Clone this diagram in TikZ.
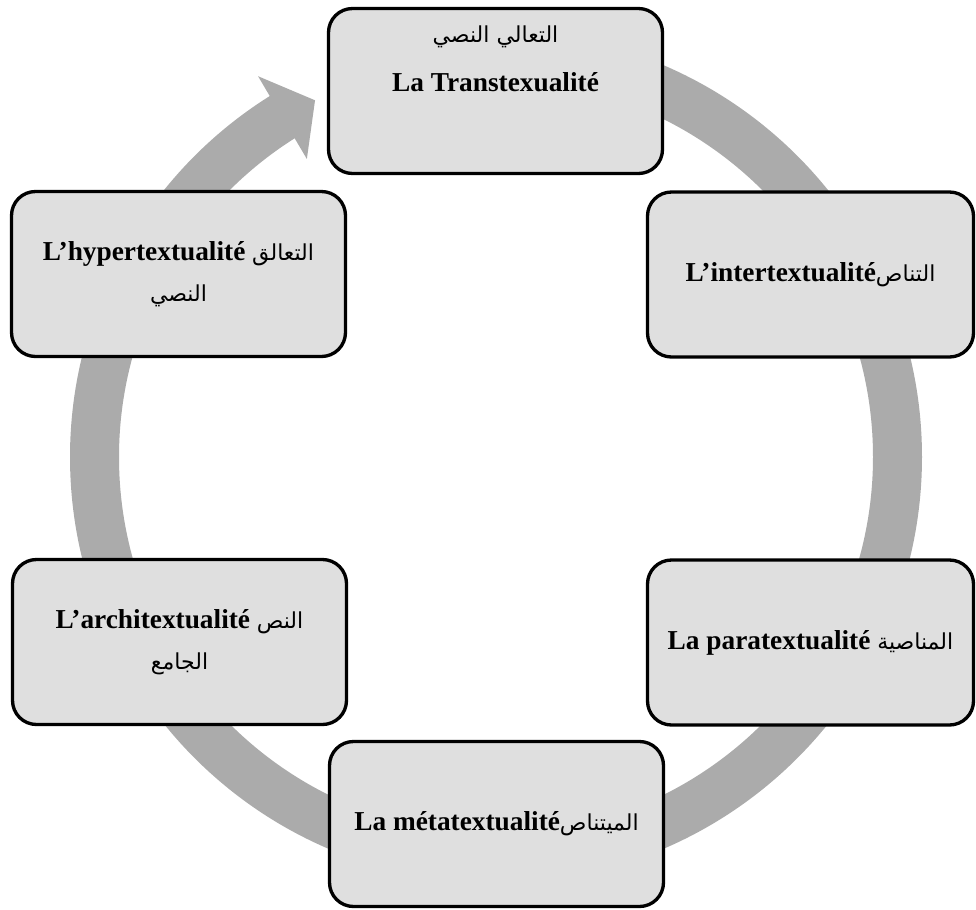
\documentclass[tikz,border=0pt]{standalone}
\usepackage{fontspec}
\setmainfont{Liberation Serif}
\newfontfamily\arabicfont[Script=Arabic]{DejaVu Sans}
\TeXXeTstate=1
% Arabic words, set right to left
\newcommand{\arw}[1]{{\arabicfont\mdseries\fontsize{16.5}{20}\selectfont\beginR #1\endR}}
\definecolor{boxgray}{HTML}{DFDFDF}
\definecolor{ringgray}{HTML}{ABABAB}
\begin{document}
\begin{tikzpicture}[x=0.75pt,y=-0.75pt,
  stage/.style={draw=black, line width=2.5pt, fill=boxgray,
    rounded corners=18pt, inner sep=0pt, align=center,
    minimum width=250.5pt, minimum height=123.75pt,
    font=\fontsize{20.5}{25}\selectfont\bfseries},
  narrow/.style={minimum width=244.5pt},
  ring/.style={draw=ringgray, line width=36.75pt},
  ringhead/.style={fill=ringgray},
]
\useasboundingbox (0,0) rectangle (976,910);

% the cycle ring with its arrow head
\coordinate (c) at (496,457);
\begin{scope}[shift={(c)}]
  \draw[ring] (-90:401.5) arc[start angle=-90, end angle=238.3, radius=401.5];
  \fill[ringhead] (238:449) -- (243.1:400) -- (237.6:353) -- cycle;
\end{scope}

% the six stages
\node[stage] (trans) at (495.5,91)
  {\arw{التعالي النصي}\\[12pt]La Transtexualité\\[16pt]\strut};
\node[stage] (hyper) at (178.5,274)
  {L’hypertextualité \arw{التعالق}\\[6pt]\arw{النصي}};
\node[stage,narrow] (inter) at (810.5,274.5)
  {L’intertextualité\arw{التناص}};
\node[stage] (archi) at (179.5,642)
  {L’architextualité \arw{النص}\\[6pt]\arw{الجامع}};
\node[stage,narrow] (para) at (810.5,642.5)
  {La paratextualité \arw{المناصية}};
\node[stage] (meta) at (496.5,824)
  {La métatextualité\arw{الميتناص}};
\end{tikzpicture}
\end{document}
